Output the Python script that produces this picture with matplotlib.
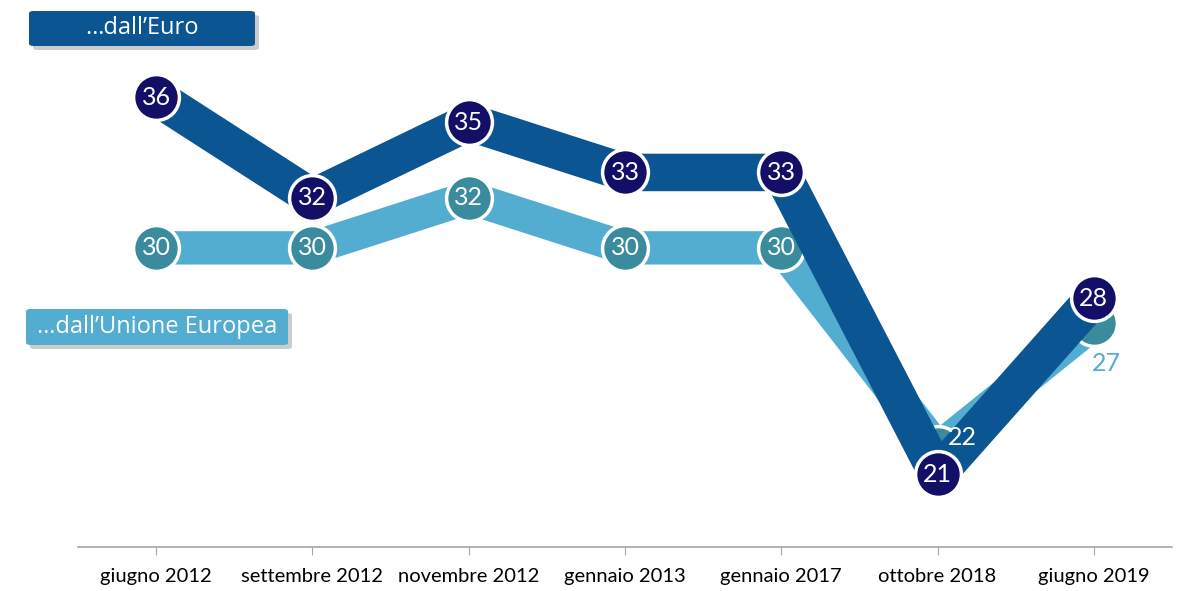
import matplotlib
matplotlib.use('Agg')
import matplotlib.pyplot as plt
from matplotlib.patches import FancyBboxPatch

# Survey dates and values
dates = ['giugno 2012', 'settembre 2012', 'novembre 2012', 'gennaio 2013',
         'gennaio 2017', 'ottobre 2018', 'giugno 2019']
euro = [36, 32, 35, 33, 33, 21, 28]
ue = [30, 30, 32, 30, 30, 22, 27]

euro_line = '#0B5592'
euro_dot = '#140F66'
ue_line = '#53ADD0'
ue_dot = '#3A8B9E'

plt.rcParams['font.family'] = ['Lato', 'DejaVu Sans']

fig = plt.figure(figsize=(11.86, 5.91), dpi=100)
ax = fig.add_axes([78 / 1186, 1 - 547 / 591, (1172 - 78) / 1186, 547 / 591])
x = list(range(len(dates)))

# EU series first (sits behind the Euro series)
ax.plot(x, ue, color=ue_line, lw=24, solid_joinstyle='bevel', solid_capstyle='butt', zorder=1)
ax.plot(x, ue, 'o', ms=33, color=ue_dot, mec='white', mew=2.5, zorder=2)
ax.plot(x, euro, color=euro_line, lw=27, solid_joinstyle='bevel', solid_capstyle='butt', zorder=3)
ax.plot(x, euro, 'o', ms=33, color=euro_dot, mec='white', mew=2.5, zorder=4)

for i, v in enumerate(euro):
    ax.text(i, v, str(v), color='white', fontsize=18, ha='center', va='center', zorder=5)
for i, v in enumerate(ue):
    if i == 5:
        ax.text(i + 0.16, v + 0.45, str(v), color='white', fontsize=18, ha='center', va='center', zorder=5)
    elif i == 6:
        ax.text(i + 0.08, v - 1.6, str(v), color=ue_line, fontsize=18, ha='center', va='center', zorder=5)
    else:
        ax.text(i, v, str(v), color='white', fontsize=18, ha='center', va='center', zorder=2.5)

ax.set_xlim(-0.5, 6.5)
ax.set_ylim(18.1, 39.86)
ax.set_xticks(x)
ax.set_xticklabels(dates, fontsize=14.5)
ax.set_yticks([])
for s in ['top', 'right', 'left']:
    ax.spines[s].set_visible(False)
ax.spines['bottom'].set_color('#A6A6A6')
ax.spines['bottom'].set_linewidth(1.2)
ax.tick_params(axis='x', length=6, color='#A6A6A6', pad=9)


def label_box(x0, y0, w, h, text, color):
    W, H = 1186, 591
    shadow = FancyBboxPatch((x0 / W + 4 / W, 1 - (y0 + h + 4) / H), w / W, h / H,
                            boxstyle='round,pad=0,rounding_size=0.004', transform=fig.transFigure,
                            facecolor='#9A9A9A', edgecolor='none', alpha=0.5, zorder=8)
    box = FancyBboxPatch((x0 / W, 1 - (y0 + h) / H), w / W, h / H,
                         boxstyle='round,pad=0,rounding_size=0.004', transform=fig.transFigure,
                         facecolor=color, edgecolor='none', zorder=9)
    fig.patches.extend([shadow, box])
    fig.text((x0 + w / 2) / W, 1 - (y0 + h / 2) / H, text, color='white', fontsize=17,
             ha='center', va='center', family=['Open Sans', 'DejaVu Sans'], zorder=10)


label_box(29, 11, 226, 35, '…dall’Euro', euro_line)
label_box(26, 309, 262, 36, '…dall’Unione Europea', ue_line)

fig.savefig('out.png', dpi=100)
